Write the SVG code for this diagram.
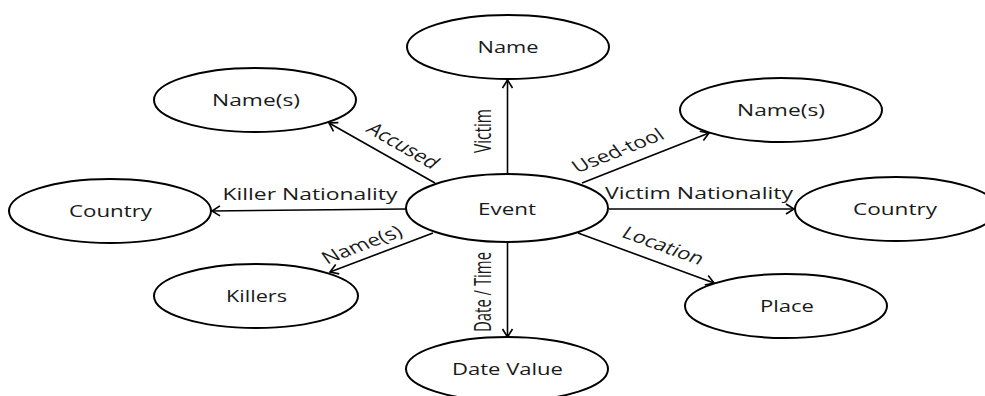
<svg xmlns="http://www.w3.org/2000/svg" width="985" height="396" viewBox="0 0 985 396">
<style>
.node ellipse{fill:#fff;stroke:#000;stroke-width:2}
text{font-family:"Open Sans","Liberation Sans",sans-serif;font-size:17px;fill:#1a1a1a;text-anchor:middle}
.edge line{stroke:#000;stroke-width:1.6;fill:none}
</style>
<defs>
<marker id="arr" markerUnits="userSpaceOnUse" markerWidth="14" markerHeight="14" viewBox="-10 -7 12 14" refX="0" refY="0" orient="auto">
<path d="M-8,-5 L0,0 L-8,5" fill="none" stroke="#000" stroke-width="1.6"/>
</marker>
</defs>
<rect width="985" height="396" fill="#fff"/>
<g id="connectors" class="edge">
<line x1="507.5" y1="174" x2="507.5" y2="80" marker-end="url(#arr)"/>
<line x1="435" y1="183" x2="329" y2="123" marker-end="url(#arr)"/>
<line x1="582" y1="183" x2="709" y2="133" marker-end="url(#arr)"/>
<line x1="406" y1="209" x2="212" y2="211" marker-end="url(#arr)"/>
<line x1="609" y1="209" x2="794" y2="209" marker-end="url(#arr)"/>
<line x1="433" y1="233" x2="330" y2="272" marker-end="url(#arr)"/>
<line x1="578" y1="233" x2="714" y2="283" marker-end="url(#arr)"/>
<line x1="507.5" y1="242" x2="507.5" y2="337" marker-end="url(#arr)"/>
<text transform="translate(491,131) rotate(-90) scale(1,1.38)" textLength="44" lengthAdjust="spacingAndGlyphs">Victim</text>
<text transform="translate(491,292) rotate(-90) scale(1,1.38)" textLength="80" lengthAdjust="spacingAndGlyphs">Date / Time</text>
<text transform="translate(403,146) scale(1.38,1) rotate(38.6)" dy="5.5" textLength="62" lengthAdjust="spacingAndGlyphs">Accused</text>
<text transform="translate(618,151) scale(1.38,1) rotate(-28.6)" dy="5.5" textLength="73" lengthAdjust="spacingAndGlyphs">Used-tool</text>
<text transform="translate(362,245) scale(1.38,1) rotate(-27.5)" dy="5.5" textLength="63" lengthAdjust="spacingAndGlyphs">Name(s)</text>
<text transform="translate(663,246) scale(1.38,1) rotate(26.7)" dy="5.5" textLength="64" lengthAdjust="spacingAndGlyphs">Location</text>
<text x="310" y="200" textLength="175" lengthAdjust="spacingAndGlyphs">Killer Nationality</text>
<text x="699" y="199" textLength="188" lengthAdjust="spacingAndGlyphs">Victim Nationality</text>
</g>
<g id="n-name" class="node"><ellipse cx="508" cy="47" rx="101" ry="32"/><text x="508" y="53" textLength="61" lengthAdjust="spacingAndGlyphs">Name</text></g>
<g id="n-accused" class="node"><ellipse cx="255" cy="100" rx="101" ry="32"/><text x="256" y="106" textLength="88" lengthAdjust="spacingAndGlyphs">Name(s)</text></g>
<g id="n-tool" class="node"><ellipse cx="781" cy="110" rx="101" ry="32"/><text x="781" y="116" textLength="88" lengthAdjust="spacingAndGlyphs">Name(s)</text></g>
<g id="n-kcountry" class="node"><ellipse cx="110" cy="211" rx="101" ry="32"/><text x="110.5" y="217" textLength="83" lengthAdjust="spacingAndGlyphs">Country</text></g>
<g id="n-event" class="node"><ellipse cx="507" cy="208" rx="101" ry="34"/><text x="507" y="215" textLength="58" lengthAdjust="spacingAndGlyphs">Event</text></g>
<g id="n-vcountry" class="node"><ellipse cx="896" cy="209" rx="101" ry="32"/><text x="895" y="215" textLength="84" lengthAdjust="spacingAndGlyphs">Country</text></g>
<g id="n-killers" class="node"><ellipse cx="256" cy="296" rx="102" ry="32"/><text x="256.5" y="302" textLength="61" lengthAdjust="spacingAndGlyphs">Killers</text></g>
<g id="n-place" class="node"><ellipse cx="786" cy="306" rx="101" ry="32"/><text x="787" y="312" textLength="54" lengthAdjust="spacingAndGlyphs">Place</text></g>
<g id="n-date" class="node"><ellipse cx="507" cy="369" rx="101" ry="32"/><text x="507.5" y="375" textLength="111" lengthAdjust="spacingAndGlyphs">Date Value</text></g>
</svg>
